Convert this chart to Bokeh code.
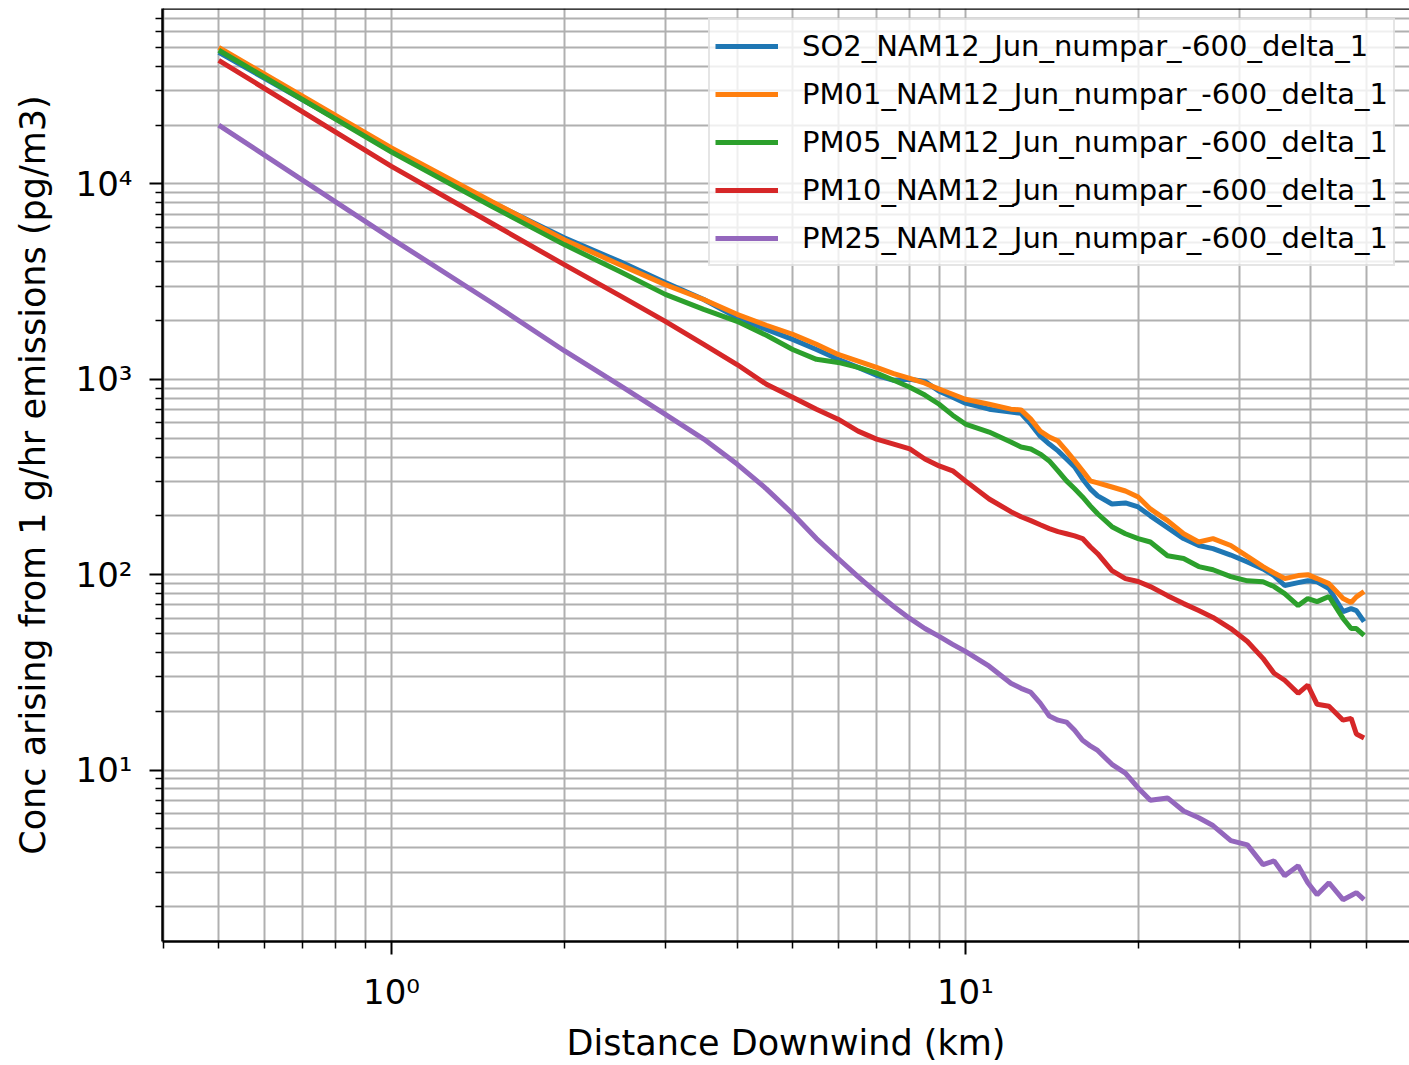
from bokeh.plotting import figure
from bokeh.models import Range1d, FixedTicker, CustomJSTickFormatter, Legend, LegendItem, Span
from bokeh.embed import file_html
from bokeh.resources import INLINE

# ---------------- data ----------------
distance_km = [0.5, 1.0, 1.5, 2.0, 2.5, 3.0, 3.5, 4.0, 4.5, 5.0,
               5.5, 6.0, 6.5, 7.0, 7.5, 8.0, 8.5, 9.0, 9.5, 10,
               11, 12, 12.5, 13, 13.5, 14, 14.5, 15, 15.5, 16,
               16.5, 17, 18, 19, 20, 21, 22.5, 24, 25.5, 27,
               29, 31, 33, 34.5, 36, 38, 39.5, 41, 43, 45.5,
               47, 48, 49.5]

so2 = [47100, 14900, 8000, 5300, 4000, 3130, 2560, 2070, 1800, 1600,
       1420, 1265, 1150, 1048, 988, 1000, 975, 868, 810, 755,
       703, 679, 670, 589, 512, 466, 430, 391, 356, 309,
       275, 253, 230, 233, 222, 200, 174, 153, 141, 136,
       126, 116, 107, 98.9, 88, 91, 93, 92, 85, 64.7,
       67, 65.5, 57.5]

pm01 = [50000, 15270, 8090, 5180, 3860, 3050, 2560, 2150, 1890, 1700,
        1510, 1340, 1240, 1150, 1070, 1010, 955, 890, 838, 790,
        745, 703, 697, 625, 543, 506, 483, 430, 382, 340,
        302, 295, 281, 268, 250, 217, 189, 162, 147, 153,
        141, 124, 110, 102, 95.5, 98.9, 100, 95.5, 90, 75.5,
        72, 77, 82]

pm05 = [48300, 14560, 7630, 4890, 3560, 2720, 2280, 1980, 1680, 1420,
        1265, 1220, 1150, 1075, 988, 910, 830, 745, 655, 590,
        537, 477, 450, 440, 414, 382, 340, 302, 275, 250,
        225, 205, 176, 162, 153, 147, 125, 121, 110, 106,
        97.7, 93, 92, 86.9, 80, 69.5, 75.5, 72.8, 77.3, 59.7,
        53, 53, 48.9]

pm10 = [42900, 12300, 6250, 3860, 2680, 1980, 1510, 1190, 943, 810,
        703, 625, 543, 494, 466, 440, 391, 360, 340, 302,
        244, 210, 198, 189, 180, 172, 166, 162, 158, 153,
        139, 128, 104.8, 95.5, 92.2, 86.9, 78.1, 71.1, 65.5, 60.4,
        53, 45.5, 37.3, 31.3, 28.8, 24.7, 27.2, 21.7, 21.2, 18.0,
        18.4, 15.3, 14.6]

pm25 = [20000, 5250, 2450, 1400, 930, 662, 494, 368, 275, 205,
        153, 121, 97.7, 81, 68.7, 59.7, 53, 48.3, 44, 40.5,
        34, 27.8, 26.2, 25, 22.0, 18.9, 18.0, 17.6, 16.0, 14.2,
        13.3, 12.6, 10.7, 9.65, 8.1, 7.0, 7.2, 6.17, 5.7, 5.2,
        4.35, 4.14, 3.28, 3.43, 2.88, 3.24, 2.65, 2.30, 2.65, 2.17,
        2.28, 2.36, 2.17]

series_labels = ["SO2_NAM12_Jun_numpar_-600_delta_1",
                 "PM01_NAM12_Jun_numpar_-600_delta_1",
                 "PM05_NAM12_Jun_numpar_-600_delta_1",
                 "PM10_NAM12_Jun_numpar_-600_delta_1",
                 "PM25_NAM12_Jun_numpar_-600_delta_1"]
series_values = [so2, pm01, pm05, pm10, pm25]
series_colors = ["#1f77b4", "#ff7f0e", "#2ca02c", "#d62728", "#9467bd"]

x_major_ticks = [1, 10]
y_major_ticks = [10, 100, 1000, 10000]

x_title = "Distance Downwind (km)"
y_title = "Conc arising from 1 g/hr emissions (pg/m3)"

X_MIN, X_MAX = 0.399, 59.4
Y_MIN, Y_MAX = 1.326, 79000

FONT = "DejaVu Sans"

# ---------------- figure ----------------
p = figure(width=1409, height=1065,
           x_axis_type="log", y_axis_type="log",
           x_range=Range1d(X_MIN, X_MAX), y_range=Range1d(Y_MIN, Y_MAX),
           output_backend="svg", toolbar_location=None,
           min_border_left=162, min_border_right=0,
           min_border_top=8, min_border_bottom=121,
           background_fill_color="white", border_fill_color="white")
p.outline_line_color = None

x_minor = [m / 10 for m in range(4, 10)] + list(range(2, 10)) + [m * 10 for m in range(2, 6)]
y_minor = []
for dec in [1, 10, 100, 1000, 10000]:
    for m in range(2, 10):
        v = m * dec
        if Y_MIN < v < Y_MAX:
            y_minor.append(v)

sup_code = """
const s = {'0':'\u2070','1':'\u00b9','2':'\u00b2','3':'\u00b3','4':'\u2074','5':'\u2075','-':'\u207b'};
const e = Math.round(Math.log10(tick));
return '10' + String(e).split('').map(c => s[c]).join('');
"""

for ax, majors, minors in [(p.xaxis[0], x_major_ticks, x_minor), (p.yaxis[0], y_major_ticks, y_minor)]:
    ax.ticker = FixedTicker(ticks=majors, minor_ticks=minors)
    ax.formatter = CustomJSTickFormatter(code=sup_code)
    ax.axis_line_color = "black"
    ax.axis_line_width = 2.5
    ax.major_tick_line_color = "black"
    ax.major_tick_line_width = 2
    ax.major_tick_out = 13
    ax.major_tick_in = 0
    ax.minor_tick_line_color = "black"
    ax.minor_tick_line_width = 1.5
    ax.minor_tick_out = 7
    ax.minor_tick_in = 0
    ax.major_label_text_font = FONT
    ax.major_label_text_font_size = "34px"
    ax.major_label_text_color = "black"
    ax.axis_label_text_font = FONT
    ax.axis_label_text_font_size = "35px"
    ax.axis_label_text_font_style = "normal"
    ax.axis_label_text_color = "black"

p.xaxis[0].axis_label = x_title
p.xaxis[0].major_label_standoff = 17
p.xaxis[0].axis_label_standoff = 8
p.yaxis[0].axis_label = y_title
p.yaxis[0].major_label_standoff = 17
p.yaxis[0].axis_label_standoff = 20

for g in (p.xgrid[0], p.ygrid[0]):
    g.grid_line_color = "#b0b0b0"
    g.grid_line_width = 2
    g.minor_grid_line_color = "#b0b0b0"
    g.minor_grid_line_width = 2

# top spine
p.add_layout(Span(location=Y_MAX, dimension="width", line_color="black", line_width=2.5))

items = []
for lab, vals, col in zip(series_labels, series_values, series_colors):
    r = p.line(distance_km, vals, line_color=col, line_width=5)
    items.append(LegendItem(label=lab, renderers=[r]))

legend = Legend(items=items, location=(546, 675))
legend.label_text_font = FONT
legend.label_text_font_size = "29px"
legend.label_text_color = "black"
legend.glyph_width = 63
legend.glyph_height = 42
legend.label_height = 42
legend.spacing = 6
legend.padding = 5
legend.margin = 0
legend.label_standoff = 24
legend.border_line_color = "#cccccc"
legend.border_line_width = 2
legend.background_fill_color = "white"
legend.background_fill_alpha = 0.8
p.add_layout(legend)

open("out.html", "w", encoding="utf-8").write(file_html(p, INLINE))
